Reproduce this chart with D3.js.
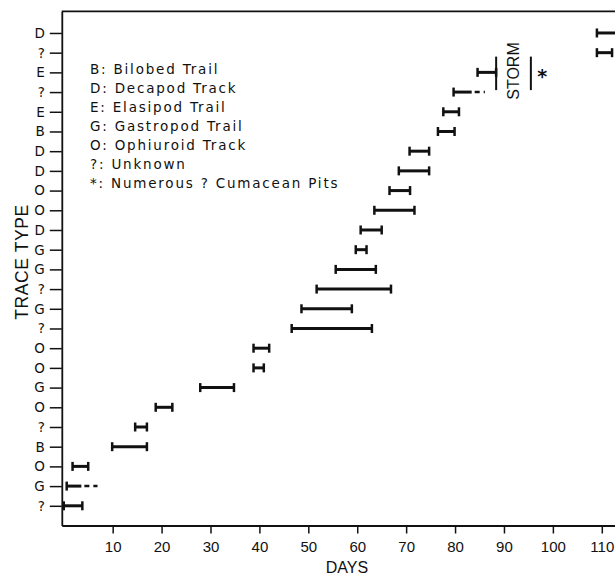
<!DOCTYPE html>
<html>
<head>
<meta charset="utf-8">
<script src="https://cdn.jsdelivr.net/npm/d3@7"></script>
<style>
body { margin: 0; background: #fff; }
svg { display: block; }
</style>
</head>
<body>
<svg id="chart"></svg>
<script>
// rows from the bottom of the chart to the top
const rowLabels = ['?','G','O','B','?','O','G','O','O','?','G','?','G','G','D','O','O','D','D','B','E','?','E','?','D'];
const startDays = [0, 0.6, 1.8, 9.9, 14.6, 18.8, 27.9, 38.8, 38.8, 46.6, 48.6, 51.7, 55.6, 59.7, 60.7, 63.5, 66.6, 68.5, 70.7, 76.5, 77.6, 79.7, 84.6, 109.0, 109.0];
const endDays = [3.8, 3.6, 5.0, 17.0, 17.0, 22.2, 34.8, 40.9, 42.0, 63.0, 58.9, 66.9, 63.8, 61.9, 65.0, 71.7, 70.8, 74.7, 74.7, 79.9, 80.8, 83.4, 88.4, 112.1, 114];
// uncertain extension (dashed) of a trace
const dashEndDays = [null, 6.9, null, null, null, null, null, null, null, null, null, null, null, null, null, null, null, null, null, null, null, 86.1, null, null, null];

const xTicks = [10, 20, 30, 40, 50, 60, 70, 80, 90, 100, 110];
const stormDays = [88.4, 95.5];
const stormRows = [22.1, 23.8];

const legendItems = [
  'B: Bilobed Trail',
  'D: Decapod Track',
  'E: Elasipod Trail',
  'G: Gastropod Trail',
  'O: Ophiuroid Track',
  '?: Unknown',
  '*: Numerous ? Cumacean Pits'
];

const ink = '#111';
const svg = d3.select('#chart').attr('width', 615).attr('height', 576);

const x = d3.scaleLinear().domain([-0.4, 112.7]).range([61.8, 615]);
const y = d3.scaleLinear().domain([0, 26.1]).range([525.5, 11.3]);

// axes
const xaxis = svg.append('g')
  .attr('transform', `translate(0, ${y(0)})`)
  .call(d3.axisBottom(x).tickValues(xTicks).tickSize(8).tickPadding(8).tickSizeOuter(0));
xaxis.select('.domain').attr('stroke', ink).attr('stroke-width', 1.8);
xaxis.selectAll('.tick line').attr('stroke', ink).attr('stroke-width', 1.5);
xaxis.selectAll('.tick text')
  .attr('fill', ink)
  .attr('font-family', 'Liberation Sans, Arial, sans-serif')
  .attr('font-size', 15);

const yaxis = svg.append('g')
  .attr('transform', `translate(${x(-0.4)}, 0)`)
  .call(d3.axisLeft(y).tickValues(d3.range(1, 26)).tickFormat(d => rowLabels[d - 1])
    .tickSize(12).tickPadding(5).tickSizeOuter(0));
yaxis.select('.domain').attr('stroke', ink).attr('stroke-width', 1.8);
yaxis.selectAll('.tick line').attr('stroke', ink).attr('stroke-width', 1.5);
yaxis.selectAll('.tick text')
  .attr('fill', ink)
  .attr('font-family', 'DejaVu Sans, sans-serif')
  .attr('font-size', 13.5);

// top frame line
svg.append('line')
  .attr('x1', x(-0.4)).attr('x2', x(112.7))
  .attr('y1', y(26.1)).attr('y2', y(26.1))
  .attr('stroke', ink).attr('stroke-width', 1.8);

// trace bars
const rows = rowLabels.map((lab, i) => ({
  row: i + 1, s: startDays[i], e: endDays[i], dash: dashEndDays[i]
}));

const bars = svg.append('g');
rows.forEach(d => {
  const g = bars.append('g').attr('transform', `translate(0, ${y(d.row)})`);
  g.append('line')
    .attr('x1', x(d.s)).attr('x2', x(d.e))
    .attr('stroke', ink).attr('stroke-width', 3);
  g.append('line')
    .attr('x1', x(d.s)).attr('x2', x(d.s))
    .attr('y1', -4.5).attr('y2', 4.5)
    .attr('stroke', ink).attr('stroke-width', 2.5);
  if (d.dash == null) {
    g.append('line')
      .attr('x1', x(d.e)).attr('x2', x(d.e))
      .attr('y1', -4.5).attr('y2', 4.5)
      .attr('stroke', ink).attr('stroke-width', 2.5);
  } else {
    g.append('line')
      .attr('x1', x(d.e) + 3).attr('x2', x(d.dash))
      .attr('stroke', ink).attr('stroke-width', 2.5)
      .attr('stroke-dasharray', '5,4');
  }
});

// storm markers
stormDays.forEach(d => {
  svg.append('line')
    .attr('x1', x(d)).attr('x2', x(d))
    .attr('y1', y(stormRows[0])).attr('y2', y(stormRows[1]))
    .attr('stroke', ink).attr('stroke-width', 2);
});
svg.append('text')
  .attr('transform', `translate(${x(91.9)}, ${y(23.07)}) rotate(-90)`)
  .attr('text-anchor', 'middle')
  .attr('dominant-baseline', 'central')
  .attr('font-family', 'Liberation Sans, Arial, sans-serif')
  .attr('font-size', 16)
  .attr('fill', ink)
  .text('STORM');
svg.append('text')
  .attr('x', x(97.8)).attr('y', y(23.0) + 11)
  .attr('text-anchor', 'middle')
  .attr('font-family', 'DejaVu Sans, sans-serif')
  .attr('font-weight', 'bold')
  .attr('font-size', 19)
  .attr('fill', ink)
  .text('*');

// legend
svg.append('g').selectAll('text')
  .data(legendItems)
  .join('text')
  .attr('x', 90)
  .attr('y', (d, i) => 69 + i * 19)
  .attr('dominant-baseline', 'central')
  .attr('font-family', 'DejaVu Sans, sans-serif')
  .attr('font-size', 13.5)
  .attr('letter-spacing', 1.8)
  .attr('fill', ink)
  .text(d => d);

// axis titles
svg.append('text')
  .attr('x', 347).attr('y', 573)
  .attr('text-anchor', 'middle')
  .attr('font-family', 'Liberation Sans, Arial, sans-serif')
  .attr('font-size', 16)
  .attr('fill', ink)
  .text('DAYS');

svg.append('text')
  .attr('transform', 'translate(22, 262) rotate(-90)')
  .attr('text-anchor', 'middle')
  .attr('dominant-baseline', 'central')
  .attr('font-family', 'Liberation Sans, Arial, sans-serif')
  .attr('font-size', 17.5)
  .attr('letter-spacing', 0.6)
  .attr('fill', ink)
  .text('TRACE TYPE');
</script>
</body>
</html>
